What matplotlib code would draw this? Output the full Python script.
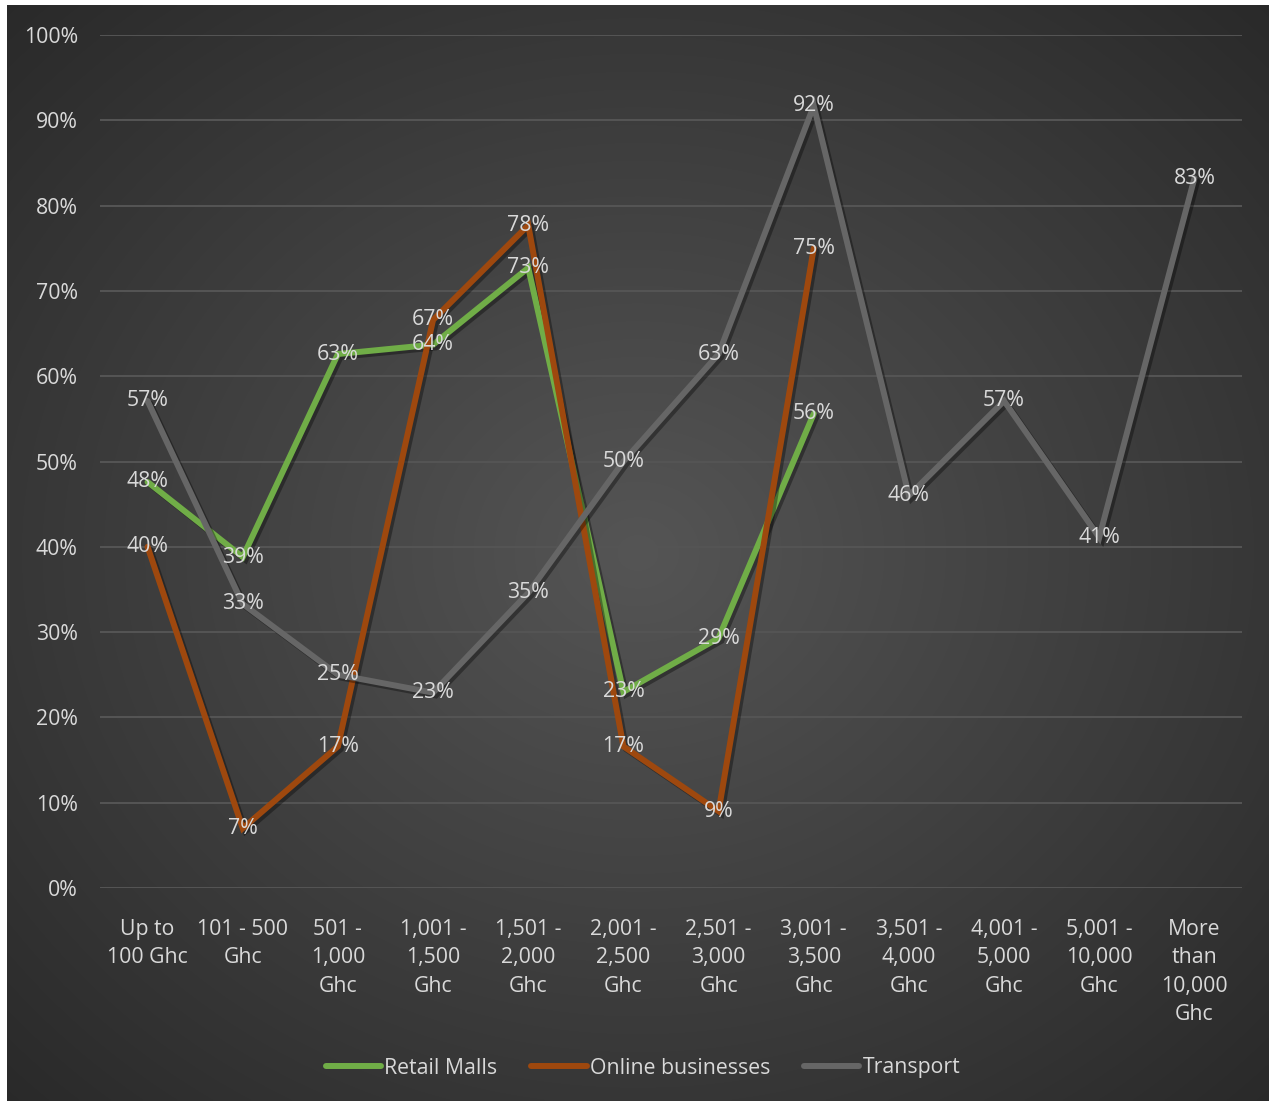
import numpy as np
import matplotlib
matplotlib.use("Agg")
import matplotlib.pyplot as plt
import matplotlib.patheffects as pe
from matplotlib.lines import Line2D

categories = ["Up to\n100 Ghc", "101 - 500\nGhc", "501 -\n1,000\nGhc", "1,001 -\n1,500\nGhc",
              "1,501 -\n2,000\nGhc", "2,001 -\n2,500\nGhc", "2,501 -\n3,000\nGhc", "3,001 -\n3,500\nGhc",
              "3,501 -\n4,000\nGhc", "4,001 -\n5,000\nGhc", "5,001 -\n10,000\nGhc", "More\nthan\n10,000\nGhc"]
retail = [47.6, 38.8, 62.6, 63.7, 72.7, 23.0, 29.3, 55.6]
online = [40.0, 7.0, 16.6, 66.6, 77.7, 16.6, 9.0, 75.0]
transport = [57.1, 33.3, 25.0, 22.9, 34.6, 50.0, 62.6, 91.7, 46.0, 57.1, 41.1, 83.2]
series_names = ["Retail Malls", "Online businesses", "Transport"]
colors = ["#70ad47", "#9e480e", "#666666"]
yticks = [0, 10, 20, 30, 40, 50, 60, 70, 80, 90, 100]

W, H = 1269, 1101
fig = plt.figure(figsize=(W / 100, H / 100), dpi=100, facecolor="white")
plt.rcParams["font.family"] = ["Open Sans", "DejaVu Sans"]
FS = 15.3

# gradient background
bg = fig.add_axes([7 / W, 0, 1 - 7 / W, 1 - 5 / H])
bg.set_axis_off()
yy, xx = np.mgrid[0:1:400j, 0:1:460j]
r = np.sqrt(((xx - 0.5) / 0.75) ** 2 + ((yy - 0.5) / 0.75) ** 2)
r = np.clip(r, 0, 1)
c0 = np.array([0x55, 0x55, 0x55]) / 255
c1 = np.array([0x27, 0x27, 0x27]) / 255
img = c0[None, None, :] * (1 - r[..., None]) + c1[None, None, :] * r[..., None]
bg.imshow(img, aspect="auto", extent=[0, 1, 0, 1], interpolation="bilinear")
bg.set_xlim(0, 1)
bg.set_ylim(0, 1)

ax = fig.add_axes([100 / W, 1 - 888 / H, 1142 / W, (888 - 35) / H])
ax.patch.set_alpha(0)
ax.set_xlim(-0.5, len(categories) - 0.5)
ax.set_ylim(0, 100)
for s in ax.spines.values():
    s.set_visible(False)
ax.set_yticks(yticks)
ax.set_yticklabels([f"{v}%" for v in yticks])
ax.set_xticks(range(len(categories)))
ax.set_xticklabels(categories, linespacing=1.47)
ax.tick_params(axis="both", length=0, colors="#d9d9d9", labelsize=FS)
ax.tick_params(axis="y", pad=16)
ax.tick_params(axis="x", pad=22)
ax.grid(axis="y", color="#555555", lw=1.4, zorder=0)
ax.set_axisbelow(True)

shadow = [pe.SimpleLineShadow(offset=(2, -2), shadow_color="black", alpha=0.35), pe.Normal()]
for vals, col in zip([retail, online, transport], colors):
    x = np.arange(len(vals))
    ax.plot(x, vals, color=col, lw=4.3, solid_capstyle="round", solid_joinstyle="miter",
            path_effects=shadow, zorder=3)

for vals in [retail, online, transport]:
    for i, v in enumerate(vals):
        ax.text(i, v, f"{v:.0f}%", ha="center", va="center", color="#d9d9d9",
                fontsize=FS, zorder=5)

handles = [Line2D([0], [0], color=c, lw=4.3, solid_capstyle="round") for c in colors]
leg = fig.legend(handles, series_names, loc="center", bbox_to_anchor=(643 / W, 1 - 1068 / H),
                 ncol=3, frameon=False, fontsize=FS, handlelength=2.6, handletextpad=0.15,
                 columnspacing=1.6, labelcolor="#d9d9d9")

fig.savefig("out.png", dpi=100, facecolor=fig.get_facecolor())
